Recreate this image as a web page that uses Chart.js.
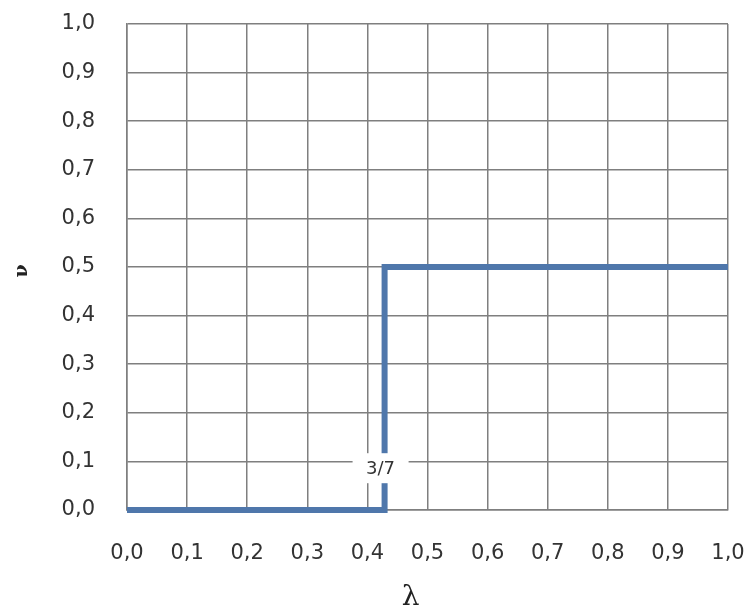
<!DOCTYPE html>
<html>
<head>
<meta charset="utf-8">
<script src="https://cdn.jsdelivr.net/npm/chart.js@4/dist/chart.umd.min.js"></script>
<style>
html,body{margin:0;padding:0;background:#fff;}
#wrap{width:745px;height:614px;position:relative;}
</style>
</head>
<body>
<div id="wrap"><canvas id="c" width="745" height="614"></canvas></div>
<script>
const xValues = [0.0, 0.4286, 0.4286, 1.0];
const yValues = [0.0, 0.0, 0.5, 0.5];
const xTickLabels = ['0,0','0,1','0,2','0,3','0,4','0,5','0,6','0,7','0,8','0,9','1,0'];
const yTickLabels = ['0,0','0,1','0,2','0,3','0,4','0,5','0,6','0,7','0,8','0,9','1,0'];
const xTitle = 'λ';
const yTitle = 'ν';
const markLabel = '3/7';
const markX = 0.4286;
const markY = 0.086;

const points = xValues.map((x, i) => ({x: x, y: yValues[i]}));

const overlay = {
  id: 'overlay',
  afterDatasetsDraw(chart) {
    const ctx = chart.ctx;
    const xs = chart.scales.x, ys = chart.scales.y;
    const px = xs.getPixelForValue(markX) - 4;
    const py = ys.getPixelForValue(markY);
    ctx.save();
    ctx.fillStyle = '#ffffff';
    ctx.fillRect(px - 28, py - 15, 56, 30);
    ctx.fillStyle = '#333333';
    ctx.font = '18px "DejaVu Sans", sans-serif';
    ctx.textAlign = 'center';
    ctx.textBaseline = 'middle';
    ctx.fillText(markLabel, px, py + 1);
    ctx.restore();
  },
  afterDraw(chart) {
    const ctx = chart.ctx;
    const a = chart.chartArea;
    ctx.save();
    ctx.fillStyle = '#222222';
    ctx.textAlign = 'center';
    ctx.textBaseline = 'middle';
    ctx.font = '28px "DejaVu Serif", serif';
    ctx.fillText(xTitle, a.left + (a.right - a.left) * 0.472, 598);
    ctx.translate(22, a.top + (a.bottom - a.top) * 0.508);
    ctx.rotate(-Math.PI / 2);
    ctx.font = 'bold 19px "DejaVu Serif", serif';
    ctx.fillText(yTitle, 0, 0);
    ctx.restore();
  }
};

new Chart(document.getElementById('c'), {
  type: 'line',
  data: {
    datasets: [{
      data: points,
      borderColor: '#4f77ab',
      borderWidth: 6,
      pointRadius: 0,
      tension: 0,
      fill: false,
      clip: false,
      borderCapStyle: 'butt',
      borderJoinStyle: 'miter'
    }]
  },
  options: {
    responsive: false,
    animation: false,
    events: [],
    layout: {padding: {left: 0, right: 17, top: 24, bottom: 0}},
    plugins: {legend: {display: false}, tooltip: {enabled: false}},
    scales: {
      x: {
        type: 'linear',
        min: 0, max: 1,
        afterFit(s) { s.height = 104; s.paddingLeft = 0; s.paddingRight = 0; },
        afterBuildTicks(s) { s.ticks = xTickLabels.map((_, i) => ({value: i / 10})); },
        ticks: {
          padding: 31,
          color: '#333333',
          font: {family: '"DejaVu Sans", sans-serif', size: 21},
          maxRotation: 0,
          autoSkip: false,
          callback: (v, i) => xTickLabels[i]
        },
        grid: {color: '#7f7f7f', lineWidth: 1.5, drawTicks: false},
        border: {color: '#7f7f7f', width: 1.5}
      },
      y: {
        type: 'linear',
        min: 0, max: 1,
        afterFit(s) { s.width = 127; s.paddingTop = 0; s.paddingBottom = 0; },
        afterBuildTicks(s) { s.ticks = yTickLabels.map((_, i) => ({value: i / 10})); },
        ticks: {
          padding: 32,
          color: '#333333',
          font: {family: '"DejaVu Sans", sans-serif', size: 21},
          autoSkip: false,
          callback: (v, i) => yTickLabels[i]
        },
        grid: {color: '#7f7f7f', lineWidth: 1.5, drawTicks: false},
        border: {color: '#7f7f7f', width: 1.5}
      }
    }
  },
  plugins: [overlay]
});
</script>
</body>
</html>
